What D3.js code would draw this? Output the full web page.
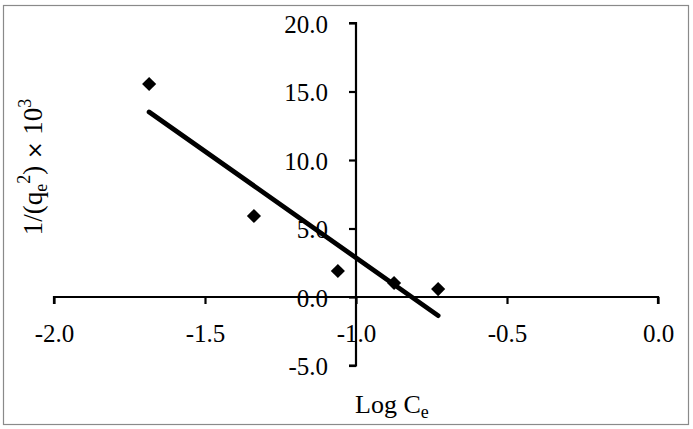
<!DOCTYPE html>
<html><head><meta charset="utf-8">
<script src="https://cdn.jsdelivr.net/npm/d3@7"></script>
<style>
html,body{margin:0;padding:0;background:#fff;}
svg{display:block;}
text{font-family:"Palatino Linotype","Book Antiqua",Palatino,"Liberation Serif","DejaVu Serif",serif;fill:#000;}
</style></head><body>
<script>
const logCe = [-1.685, -1.338, -1.060, -0.874, -0.728];
const invQe2 = [15.55, 5.91, 1.90, 1.02, 0.58];
const xTicks = [-2.0, -1.5, -1.0, -0.5, 0.0];
const yTicks = [-5, 0, 5, 10, 15, 20];

const W = 693, H = 429;
const svg = d3.select("body").append("svg").attr("width", W).attr("height", H);
svg.append("rect").attr("x", 3.5).attr("y", 5.5).attr("width", 685).attr("height", 419)
  .attr("fill", "#fff").attr("stroke", "#8a8a8a").attr("stroke-width", 1.2);

const x = d3.scaleLinear().domain([-2, 0]).range([54, 658]);
const y = d3.scaleLinear().domain([-5, 20]).range([365.5, 23]);

const fmt = v => d3.format(".1f")(v).replace("\u2212", "-");
const FS = "25px";
const xAxis = svg.append("g").attr("transform", `translate(0,${y(0)})`)
  .call(d3.axisBottom(x).tickValues(xTicks).tickSize(7).tickPadding(21).tickFormat(fmt));
const yAxis = svg.append("g").attr("transform", `translate(${x(-1)},0)`)
  .call(d3.axisLeft(y).tickValues(yTicks).tickSize(7).tickPadding(21).tickFormat(fmt));
[xAxis, yAxis].forEach(g => {
  g.attr("font-family", null).attr("font-size", null);
  g.select(".domain").attr("stroke", "#000").attr("stroke-width", 2.2);
  g.selectAll(".tick line").attr("stroke", "#000").attr("stroke-width", 2.2);
  g.selectAll(".tick text").style("font-size", FS).attr("fill", "#000");
});
xAxis.selectAll(".tick text").attr("dy", "0.68em");
yAxis.selectAll(".tick text").attr("dy", "0.36em");
xAxis.select(".domain").attr("d", `M${x(-2)},7V0H${x(0)}V7`);
yAxis.select(".domain").attr("d", `M-7,${y(20)}H0V${y(-5)}H-7`);

// linear regression trendline
const n = logCe.length;
const mx = d3.mean(logCe), my = d3.mean(invQe2);
let sxy = 0, sxx = 0;
for (let i = 0; i < n; i++) { sxy += (logCe[i]-mx)*(invQe2[i]-my); sxx += (logCe[i]-mx)**2; }
const slope = sxy / sxx, icpt = my - slope * mx;
const xMin = d3.min(logCe), xMax = d3.max(logCe);
svg.append("line")
  .attr("x1", x(xMin)).attr("y1", y(icpt + slope * xMin))
  .attr("x2", x(xMax)).attr("y2", y(icpt + slope * xMax))
  .attr("stroke", "#000").attr("stroke-width", 4.8).attr("stroke-linecap", "round");

svg.append("g").selectAll("path").data(logCe).join("path")
  .attr("d", d3.symbol(d3.symbolSquare, 100))
  .attr("transform", (d, i) => `translate(${x(d)},${y(invQe2[i])}) rotate(45)`)
  .attr("fill", "#000");

const xt = svg.append("text").attr("x", 355).attr("y", 413).style("font-size", "26px");
xt.append("tspan").text("Log C");
xt.append("tspan").text("e").attr("dy", 5).style("font-size", "18px");

const yt = svg.append("text").attr("transform", "translate(42,167) rotate(-90)")
  .attr("text-anchor", "middle").style("font-size", "27px");
yt.append("tspan").text("1/(q");
yt.append("tspan").text("e").attr("dy", 5).style("font-size", "18px");
yt.append("tspan").text("2").attr("dy", -17).style("font-size", "18px");
yt.append("tspan").text(") ").attr("dy", 12);
yt.append("tspan").text("\u00d7").style("font-family", "'DejaVu Sans',sans-serif").style("font-size", "21px");
yt.append("tspan").text(" 10");
yt.append("tspan").text("3").attr("dy", -11).style("font-size", "18px");
</script>
</body></html>
